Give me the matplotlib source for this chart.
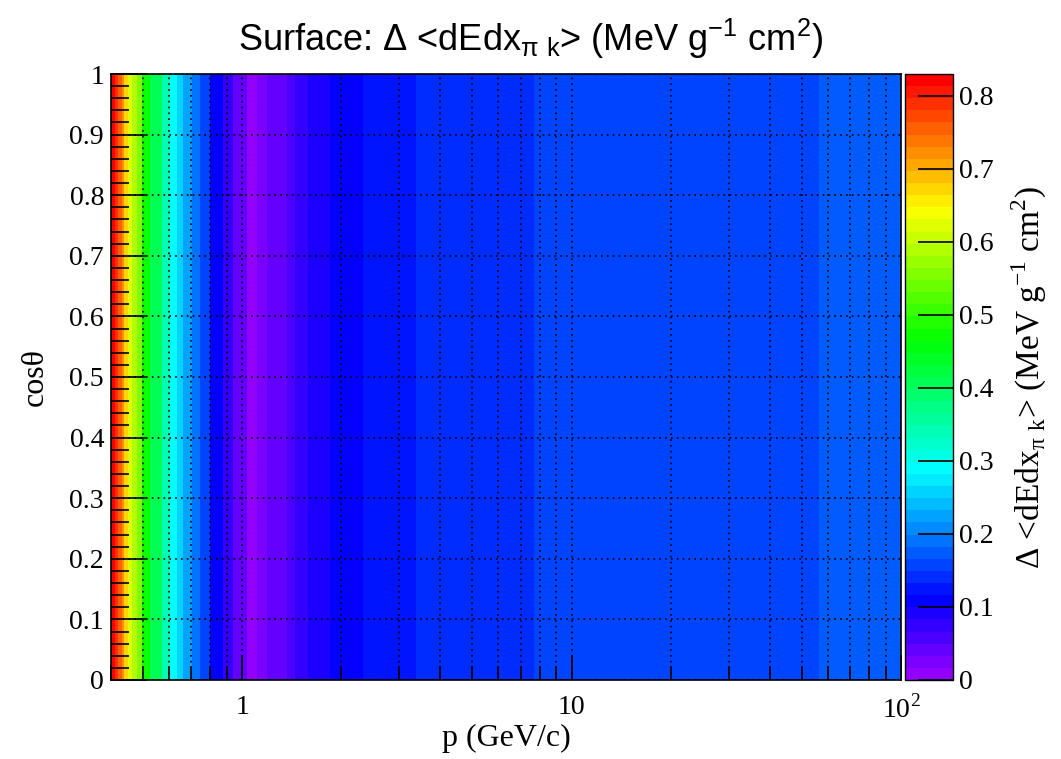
import colorsys
import numpy as np
import matplotlib
matplotlib.use("Agg")
import matplotlib.pyplot as plt
from matplotlib.colors import ListedColormap, BoundaryNorm
from matplotlib.ticker import LogLocator, MultipleLocator, FixedLocator, FuncFormatter

# momentum band edges (GeV/c) and the dE/dx difference in each band
p_edges = [0.400, 0.412, 0.421, 0.432, 0.439, 0.451, 0.464, 0.481, 0.498,
           0.526, 0.573, 0.605, 0.636, 0.663, 0.706, 0.747, 0.801, 0.877,
           0.941, 1.038, 1.113, 1.194, 1.373, 1.452, 1.590, 1.855, 2.321,
           3.364, 7.68, 56.4, 100.0]
delta_dedx = [0.822, 0.789, 0.755, 0.722, 0.672, 0.623, 0.589, 0.556, 0.473,
              0.407, 0.340, 0.291, 0.257, 0.224, 0.191, 0.158, 0.108, 0.075,
              0.042, 0.008, 0.025, 0.042, 0.058, 0.075, 0.091, 0.108, 0.125,
              0.141, 0.158, 0.174]
costheta_edges = [0.0, 1.0]
z_max = 0.83
n_levels = 50

# ROOT "pretty" palette: hue scan violet -> red
pretty = []
for i in range(n_levels):
    hue = 280.0 - (i + 1) * 280.0 / n_levels
    pretty.append(colorsys.hls_to_rgb(hue / 360.0, 0.5, 1.0))
cmap = ListedColormap(pretty)
norm = BoundaryNorm(np.linspace(0, z_max, n_levels + 1), n_levels)

serif = "Liberation Serif"
sans = "Liberation Sans"
gfmt = FuncFormatter(lambda v, _: f"{v:g}")

fig = plt.figure(figsize=(10.61, 7.59), dpi=100)
ax = fig.add_axes([0.1046, 0.1041, 0.7446, 0.7984])
cax = fig.add_axes([0.853, 0.1041, 0.0452, 0.7984])

Z = np.tile(np.array(delta_dedx), (len(costheta_edges) - 1, 1))
mesh = ax.pcolormesh(p_edges, costheta_edges, Z, cmap=cmap, norm=norm, shading="flat")

ax.set_xscale("log")
ax.set_xlim(0.4, 100)
ax.set_ylim(0, 1)

ax.xaxis.set_major_locator(FixedLocator([1, 10, 100]))
ax.xaxis.set_minor_locator(LogLocator(base=10, subs=np.arange(2, 10), numticks=20))
ax.xaxis.set_major_formatter(FuncFormatter(
    lambda v, _: r"10$^{\mathregular{2}}$" if v > 50 else f"{v:g}"))
ax.yaxis.set_major_locator(FixedLocator(np.round(np.arange(0, 1.01, 0.1), 1)))
ax.yaxis.set_minor_locator(MultipleLocator(0.02))
ax.yaxis.set_major_formatter(gfmt)

ax.tick_params(axis="both", which="both", direction="in", top=False, right=False,
               labelsize=20, width=1.2, color="black")
ax.tick_params(axis="y", which="major", length=26, pad=5)
ax.tick_params(axis="y", which="minor", length=13)
ax.tick_params(axis="x", which="major", length=18, pad=11)
ax.tick_params(axis="x", which="minor", length=10)
for lab in ax.get_xticklabels() + ax.get_yticklabels():
    lab.set_fontfamily(serif)

# dotted grid at every x tick, major y ticks only
ax.grid(True, which="major", axis="both", color="black", linestyle=(0, (1, 2.5)), linewidth=1.2)
ax.grid(True, which="minor", axis="x", color="black", linestyle=(0, (1, 2.5)), linewidth=1.2)
ax.set_axisbelow(False)
for s in ax.spines.values():
    s.set_linewidth(1.2)

ax.set_xlabel("p (GeV/c)", fontsize=23, fontfamily=serif, labelpad=0)
ax.set_ylabel("cosθ", fontsize=23, fontfamily=serif, labelpad=14)

fig.suptitle(r"Surface: Δ <dEdx$_{\mathregular{π\ k}}$> (MeV g$^{\mathregular{-1}}$ cm$^{\mathregular{2}}$)",
             fontsize=26, fontfamily=sans, y=0.978)

cb = fig.colorbar(mesh, cax=cax, ticks=np.round(np.arange(0, 0.81, 0.1), 1))
cb.outline.set_linewidth(1.0)
cax.tick_params(axis="y", which="major", direction="in", length=25, width=1.2,
                labelsize=20, pad=4)
cax.minorticks_off()
cax.yaxis.set_major_formatter(gfmt)
for lab in cax.get_yticklabels():
    lab.set_fontfamily(serif)
cb.set_label(r"Δ <dEdx$_{\mathregular{π\ k}}$> (MeV g$^{\mathregular{-1}}$ cm$^{\mathregular{2}}$)",
             fontsize=24, fontfamily=serif, labelpad=12)

fig.savefig("out.png", dpi=100)
